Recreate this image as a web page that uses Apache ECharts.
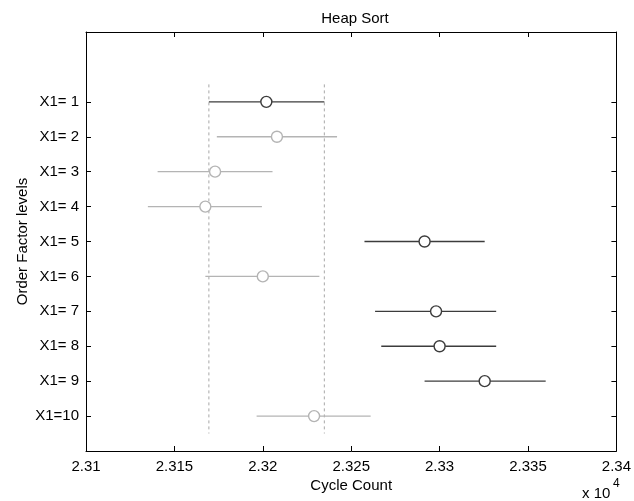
<!DOCTYPE html>
<html>
<head>
<meta charset="utf-8">
<script src="https://cdn.jsdelivr.net/npm/echarts@6/dist/echarts.min.js"></script>
<style>
  html, body { margin: 0; padding: 0; background: #fff; }
  #chart { width: 634px; height: 501px; }
</style>
</head>
<body>
<div id="chart"></div>
<script>
// order factor levels, top to bottom
const levels = ['X1= 1', 'X1= 2', 'X1= 3', 'X1= 4', 'X1= 5', 'X1= 6', 'X1= 7', 'X1= 8', 'X1= 9', 'X1=10']
// group means and comparison interval bounds (cycle count)
const means = [23202, 23208, 23173, 23167.5, 23291.5, 23200, 23298, 23300, 23325.5, 23229]
const lower = [23169.5, 23174, 23140.5, 23135, 23257.5, 23167.5, 23263.5, 23267, 23291.5, 23196.5]
const upper = [23234.8, 23242, 23205.5, 23199.5, 23325.5, 23232, 23332, 23332, 23360, 23261]
// which groups differ significantly from X1=1 (drawn dark)
const highlighted = [true, false, false, false, true, false, true, true, true, false]
// reference lines bounding the X1=1 interval
const refLines = [23169.5, 23234.8]
const xTickValues = [23100, 23150, 23200, 23250, 23300, 23350, 23400]

const dark = '#3c3c3c'
const light = '#b4b4b4'
const font = 'Liberation Sans, Arial, sans-serif'

const chart = echarts.init(document.getElementById('chart'))

const rows = levels.map((name, i) => ({
    y: i + 1,
    mean: means[i],
    lo: lower[i],
    hi: upper[i],
    color: highlighted[i] ? dark : light
}))

const yTickValues = levels.map((_, i) => i + 1)

// matlab style ticks pointing into the plot box
function ticks(custom) {
    return { show: true, inside: true, length: 5, customValues: custom, lineStyle: { color: '#000', width: 1 } }
}
const boxLine = { show: true, onZero: false, lineStyle: { color: '#000', width: 1 } }

const option = {
    animation: false,
    backgroundColor: '#fff',
    title: {
        text: 'Heap Sort',
        left: 350,
        top: 6,
        textAlign: 'center',
        textStyle: { fontFamily: font, fontSize: 15, fontWeight: 'normal', color: '#000' }
    },
    grid: { left: 86, right: 16, top: 32, bottom: 50 },
    xAxis: [
        {
            type: 'value',
            position: 'bottom',
            min: xTickValues[0],
            max: xTickValues[xTickValues.length - 1],
            interval: 50,
            name: 'Cycle Count',
            nameLocation: 'middle',
            nameGap: 27,
            nameMoveOverlap: false,
            nameTextStyle: { fontFamily: font, fontSize: 15, color: '#000' },
            axisLine: boxLine,
            axisTick: ticks(xTickValues),
            axisLabel: {
                fontFamily: font, fontSize: 15, color: '#000', margin: 8,
                customValues: xTickValues,
                formatter: v => String(+(v / 10000).toFixed(4))
            },
            splitLine: { show: false }
        },
        {
            type: 'value',
            position: 'top',
            min: xTickValues[0],
            max: xTickValues[xTickValues.length - 1],
            interval: 50,
            axisLine: boxLine,
            axisTick: ticks(xTickValues),
            axisLabel: { show: false },
            splitLine: { show: false }
        }
    ],
    yAxis: [
        {
            type: 'value',
            position: 'left',
            min: -1,
            max: 11,
            inverse: true,
            name: 'Order Factor levels',
            nameLocation: 'middle',
            nameGap: 56,
            nameMoveOverlap: false,
            nameTextStyle: { fontFamily: font, fontSize: 15, color: '#000' },
            axisLine: boxLine,
            axisTick: ticks(yTickValues),
            axisLabel: {
                fontFamily: font, fontSize: 15, color: '#000', margin: 7,
                customValues: yTickValues,
                formatter: v => levels[v - 1] || ''
            },
            splitLine: { show: false }
        },
        {
            type: 'value',
            position: 'right',
            min: -1,
            max: 11,
            inverse: true,
            axisLine: boxLine,
            axisTick: ticks(yTickValues),
            axisLabel: { show: false },
            splitLine: { show: false }
        }
    ],
    series: [
        ...refLines.map(x => ({
            type: 'line',
            data: [[x, 0.5], [x, 10.5]],
            symbol: 'none',
            silent: true,
            lineStyle: { color: '#a8a8a8', width: 1, type: [3, 3] },
            z: 1
        })),
        {
            type: 'custom',
            silent: true,
            data: rows.map(r => [r.lo, r.hi, r.y]),
            renderItem: (params, api) => {
                const a = api.coord([api.value(0), api.value(2)])
                const b = api.coord([api.value(1), api.value(2)])
                return {
                    type: 'line',
                    shape: { x1: a[0], y1: a[1], x2: b[0], y2: b[1] },
                    style: { stroke: rows[params.dataIndex].color, lineWidth: 1.3 }
                }
            },
            z: 2
        },
        {
            type: 'scatter',
            symbol: 'circle',
            symbolSize: 11,
            data: rows.map(r => ({
                value: [r.mean, r.y],
                itemStyle: { color: '#fff', opacity: 1, borderColor: r.color, borderWidth: 1.4 }
            })),
            z: 3
        }
    ],
    graphic: [
        {
            type: 'text',
            left: 582,
            top: 486,
            style: { text: 'x 10', font: '15px ' + font, fill: '#000' }
        },
        {
            type: 'text',
            left: 613,
            top: 478,
            style: { text: '4', font: '12px ' + font, fill: '#000' }
        }
    ]
}

chart.setOption(option)
</script>
</body>
</html>
